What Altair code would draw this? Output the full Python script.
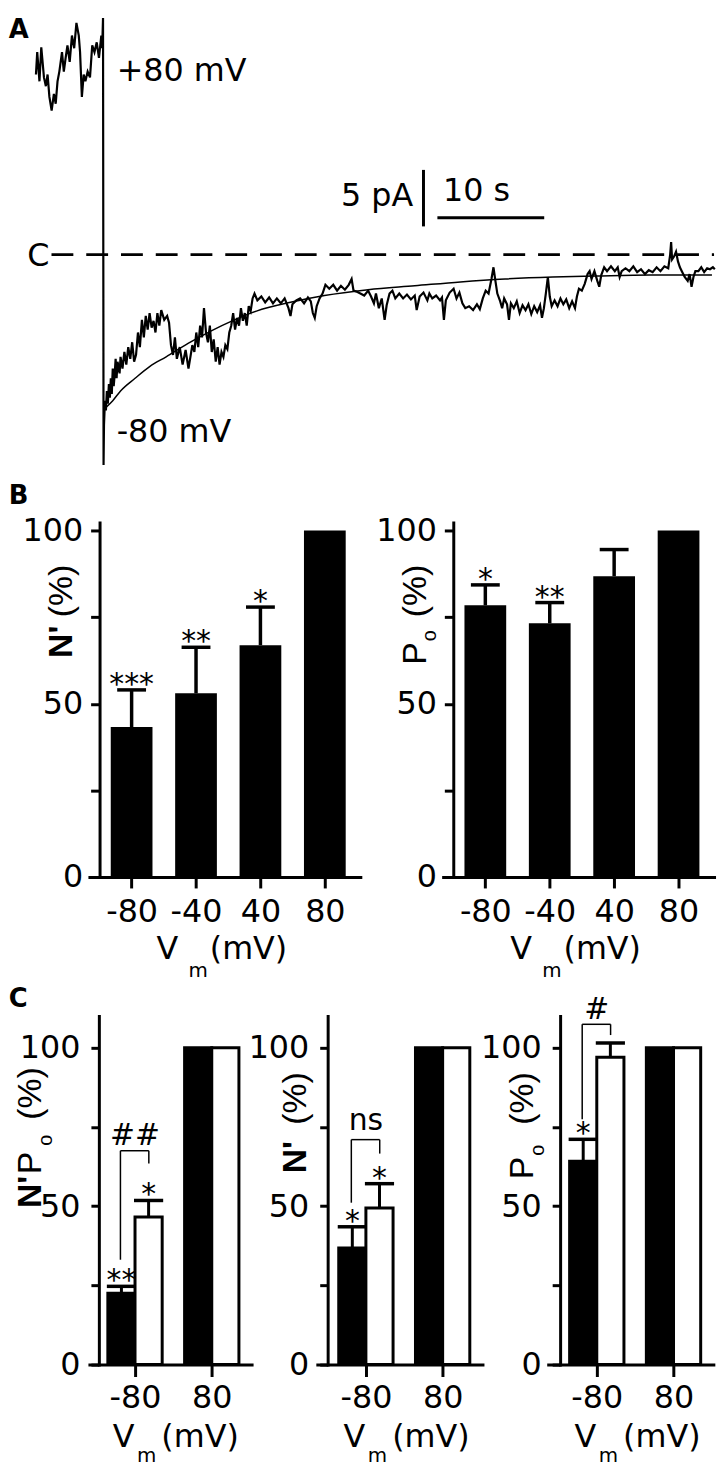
import json
import altair as alt
import pandas as pd

FONT = "DejaVu Sans"
TFONT = "Liberation Sans"

# ---------------- Panel A : single-channel current trace ----------------
# time in s (0 = voltage step), current in pA (0 = closed level "C")
UP_T = [-6.28, -6.16, -5.95, -5.78, -5.53, -5.35, -5.19, -5.02, -4.81, -4.60,
        -4.43, -4.26, -4.09, -3.84, -3.67, -3.50, -3.33, -3.12, -2.91, -2.70,
        -2.49, -2.27, -2.15, -1.98, -1.81, -1.65, -1.44, -1.22, -1.01, -0.80,
        -0.59, -0.38, -0.16, -0.08]
UP_I = [18.5, 20.8, 17.8, 21.3, 18.2, 17.3, 18.5, 16.2, 14.8, 16.5,
        15.5, 17.8, 18.8, 20.8, 18.8, 20.2, 21.5, 19.8, 22.5, 21.2,
        23.8, 22.5, 20.8, 16.2, 18.5, 17.8, 18.8, 18.2, 21.5, 20.8,
        21.8, 20.2, 22.5, 21.2]
STEP_T = [0.00, 0.05]
STEP_I = [24.3, -21.6]
DOWN_T = [0.09, 0.18, 0.27, 0.36, 0.45, 0.55, 0.64, 0.73, 0.82, 0.91,
          1.0, 1.09, 1.18, 1.27, 1.36, 1.55, 1.64, 1.82, 2.0, 2.18,
          2.36, 2.55, 2.73, 2.91, 3.09, 3.27, 3.45, 3.64, 3.82, 4.0,
          4.18, 4.36, 4.55, 4.73, 4.91, 5.09, 5.27, 5.45, 5.73, 6.0,
          6.18, 6.36, 6.55, 6.73, 6.91, 7.18, 7.45, 7.73, 8.0, 8.18,
          8.36, 8.55, 8.73, 8.91, 9.09, 9.27, 9.45, 9.64, 9.82, 10.0,
          10.18, 10.36, 10.55, 10.73, 10.91, 11.09, 11.27, 11.45, 11.64, 11.82,
          12.0, 12.18, 12.36, 12.55, 12.73, 12.91, 13.09, 13.27, 13.45, 13.64,
          13.82, 14.0, 14.18, 14.45, 14.82, 15.18, 15.55, 15.91, 16.27, 16.64,
          17.0, 17.36, 17.55, 17.73, 18.09, 18.45, 18.82, 19.18, 19.45, 19.64,
          19.82, 20.0, 20.27, 20.55, 20.82, 21.18, 21.55, 21.91, 22.27, 22.64,
          23.0, 23.27, 23.45, 23.73, 24.09, 24.45, 24.82, 25.09, 25.36, 25.55,
          25.82, 26.09, 26.36, 26.55, 26.82, 27.09, 27.36, 27.73, 28.09, 28.45,
          28.82, 29.18, 29.36, 29.64, 30.0, 30.36, 30.55, 30.82, 31.18, 31.55,
          31.73, 31.91, 32.09, 32.45, 32.82, 33.09, 33.36, 33.64, 33.91, 34.27,
          34.64, 35.0, 35.27, 35.55, 35.82, 36.09, 36.36, 36.55, 36.73, 36.91,
          37.18, 37.36, 37.55, 37.82, 38.0, 38.18, 38.45, 38.73, 39.0, 39.27,
          39.55, 39.82, 40.09, 40.36, 40.64, 40.91, 41.09, 41.27, 41.45, 41.64,
          41.82, 42.0, 42.27, 42.55, 42.82, 43.09, 43.36, 43.64, 43.91, 44.18,
          44.36, 44.55, 44.82, 45.09, 45.36, 45.55, 45.73, 46.0, 46.27, 46.45,
          46.64, 46.91, 47.18, 47.55, 47.91, 48.18, 48.36, 48.55, 48.91, 49.27,
          49.64, 50.0, 50.36, 50.73, 51.09, 51.45, 51.82, 52.18, 52.55, 52.91,
          53.09, 53.18, 53.27, 53.45, 53.64, 53.82, 54.0, 54.18, 54.45, 54.73,
          54.91, 55.09, 55.27, 55.45, 55.73, 56.0, 56.27, 56.55, 56.82, 57.09,
          57.27]
DOWN_I = [-17.5, -15.0, -16.0, -14.0, -15.3, -13.3, -14.7, -12.7, -14.3, -11.7,
          -13.5, -12.3, -10.7, -12.7, -11.0, -12.2, -10.5, -11.7, -10.0, -11.3,
          -9.5, -10.7, -9.0, -11.0, -10.3, -8.0, -9.5, -6.7, -8.5, -6.3,
          -7.7, -6.0, -7.5, -6.8, -8.0, -6.0, -7.3, -5.7, -6.7, -6.3,
          -7.0, -9.3, -10.3, -8.5, -10.7, -9.5, -11.3, -9.8, -11.7, -10.5,
          -9.3, -10.0, -8.0, -9.5, -7.3, -8.5, -5.5, -8.0, -9.0, -7.3,
          -10.0, -8.7, -11.0, -9.5, -11.3, -10.0, -10.5, -9.3, -9.7, -8.0,
          -7.3, -6.0, -7.7, -6.5, -7.3, -5.5, -6.8, -6.0, -7.3, -5.3,
          -5.8, -4.5, -4.0, -4.7, -4.3, -4.9, -4.4, -5.0, -4.5, -5.0,
          -4.5, -5.5, -6.3, -5.1, -4.7, -4.5, -5.0, -4.4, -4.8, -6.0,
          -6.5, -5.3, -4.5, -4.0, -3.1, -3.5, -3.1, -3.7, -3.2, -3.6,
          -3.1, -2.5, -3.7, -3.8, -4.0, -4.2, -3.7, -4.3, -5.0, -4.0,
          -5.5, -4.5, -6.7, -5.2, -4.0, -3.7, -4.5, -4.0, -4.5, -4.1,
          -4.6, -4.2, -5.7, -4.3, -3.9, -4.7, -4.0, -4.5, -4.2, -4.7,
          -4.4, -6.7, -4.7, -3.9, -3.5, -4.5, -3.9, -5.0, -5.5, -5.3,
          -5.7, -5.1, -5.6, -4.5, -3.7, -4.0, -2.5, -1.3, -2.7, -4.0,
          -4.8, -5.5, -4.5, -5.1, -6.7, -5.0, -5.5, -4.8, -6.0, -5.2,
          -5.7, -5.1, -6.1, -5.3, -5.9, -5.2, -6.5, -5.5, -4.0, -2.3,
          -4.3, -5.3, -4.7, -5.3, -4.5, -5.1, -4.6, -5.5, -4.8, -5.5,
          -4.3, -3.5, -3.7, -3.0, -2.0, -1.7, -2.5, -1.7, -2.7, -3.3,
          -2.1, -1.3, -1.7, -1.2, -1.7, -1.3, -2.3, -1.7, -1.4, -1.7,
          -1.2, -1.8, -1.5, -2.0, -1.6, -1.8, -1.3, -1.7, -1.2, -1.4,
          0.0, 1.3, -0.5, -0.2, 0.3, -0.7, -1.3, -1.7, -2.3, -2.7,
          -2.0, -3.3, -2.3, -1.7, -1.7, -1.3, -1.8, -1.4, -1.5, -1.3,
          -1.5]
FIT_T = [0.27, 0.91, 1.64, 3.0, 4.36, 5.91, 8.0, 10.18, 12.09, 14.36,
         17.55, 20.73, 24.82, 29.18, 33.45, 37.64, 42.09, 46.09, 51.18, 57.0]
FIT_I = [-15.7, -15.0, -14.0, -12.7, -11.5, -10.5, -9.1, -7.8, -6.8, -5.8,
         -4.9, -4.2, -3.6, -3.2, -2.8, -2.5, -2.3, -2.2, -2.1, -2.1]
CLOSED_LEVEL = [0.0]
SCALEBAR_T = [31.3, 41.3]          # 10 s time bar

# ---------------- Panel B ----------------
B_VM = ["-80", "-40", "40", "80"]
B_N = [43.3, 53.0, 66.9, 100.0]
B_N_ERR = [10.7, 13.3, 11.0, 0.0]
B_N_SIG = ["***", "**", "*", ""]
B_PO = [78.4, 73.2, 86.8, 100.0]
B_PO_ERR = [5.9, 6.0, 7.7, 0.0]
B_PO_SIG = ["*", "**", "", ""]

# ---------------- Panel C ----------------
C_VM = ["-80", "80"]
C1_CTRL, C1_CTRL_ERR, C1_CTRL_SIG = [22.5, 100.0], [2.2, 0.0], ["**", ""]
C1_TRT, C1_TRT_ERR, C1_TRT_SIG = [46.6, 100.0], [5.2, 0.0], ["*", ""]
C1_BRACKET = ["##", 33.1, 63.5, 67.5]     # label, left leg bottom, right leg bottom, top
C2_CTRL, C2_CTRL_ERR, C2_CTRL_SIG = [36.8, 100.0], [6.7, 0.0], ["*", ""]
C2_TRT, C2_TRT_ERR, C2_TRT_SIG = [49.4, 100.0], [7.7, 0.0], ["*", ""]
C2_BRACKET = ["ns", 51.1, 66.6, 71.0]
C3_CTRL, C3_CTRL_ERR, C3_CTRL_SIG = [64.2, 100.0], [6.9, 0.0], ["*", ""]
C3_TRT, C3_TRT_ERR, C3_TRT_SIG = [97.0, 100.0], [4.5, 0.0], ["", ""]
C3_BRACKET = ["#", 77.4, 104.0, 107.4]

ONE = pd.DataFrame({"d": [0]})


def txt(s, x, y, size=32, font=FONT, weight="normal", align="left",
        baseline="alphabetic", angle=0):
    return alt.Chart(ONE).mark_text(
        text=s, font=font, fontSize=size, fontWeight=weight, align=align,
        baseline=baseline, angle=angle, color="black"
    ).encode(x=alt.value(x), y=alt.value(y))


def rtxt(s, x, y, size=34, weight="normal", font=TFONT):
    return txt(s, x, y, size=size, font=font, weight=weight, align="center",
               baseline="middle", angle=270)


def ghost(x, y1, y2):
    return alt.Chart(ONE).mark_rule(opacity=0, strokeWidth=1).encode(
        x=alt.value(x), y=alt.value(y1), y2=alt.value(y2))


def yaxis(off, tick, pad):
    return alt.Axis(values=[0, 25, 50, 75, 100],
                    labelExpr="datum.value % 50 === 0 ? datum.label : ''",
                    offset=off, tickSize=tick, labelPadding=pad, title=None,
                    grid=False, domainWidth=3, tickWidth=3, domainCap="square",
                    labelFont=FONT, labelFontSize=32, labelFlush=False,
                    labelOverlap=False, domainColor="black", tickColor="black",
                    labelColor="black")


def xaxis(labels, tick, pad):
    return alt.Axis(values=list(range(len(labels))),
                    labelExpr=json.dumps(labels) + "[datum.value]",
                    tickSize=tick, labelPadding=pad, title=None, grid=False,
                    domainWidth=3, tickWidth=3, domainCap="square",
                    labelFont=FONT, labelFontSize=32, labelFlush=False,
                    labelOverlap=False, domainColor="black", tickColor="black",
                    labelColor="black")


# ---------------- build panel A ----------------
# all rows share the same origin (left edge of the B/C plots)
A_W, A_H = 630.8, 452
T_DOM = [-1.273, 57.364]
I_DOM = [-21.6, 24.5]
sAx = alt.Scale(domain=T_DOM, nice=False, zero=False)
sAy = alt.Scale(domain=I_DOM, nice=False, zero=False)

trace_df = pd.DataFrame({"t": UP_T + STEP_T + DOWN_T, "i": UP_I + STEP_I + DOWN_I})
trace_df["k"] = range(len(trace_df))
fit_df = pd.DataFrame({"t": FIT_T, "i": FIT_I})

trace = alt.Chart(trace_df).mark_line(color="black", strokeWidth=2.2).encode(
    x=alt.X("t:Q", scale=sAx, axis=None), y=alt.Y("i:Q", scale=sAy, axis=None),
    order="k:Q")
fit = alt.Chart(fit_df).mark_line(color="black", strokeWidth=1.5,
                                  interpolate="monotone").encode(
    x=alt.X("t:Q", scale=sAx, axis=None), y=alt.Y("i:Q", scale=sAy, axis=None))
dash = alt.Chart(pd.DataFrame({"i": CLOSED_LEVEL})).mark_rule(
    color="black", strokeWidth=3, strokeDash=[22, 13]).encode(
    x=alt.value(-38.2), x2=alt.value(629), y=alt.Y("i:Q", scale=sAy, axis=None))
tbar = alt.Chart(pd.DataFrame({"t": [SCALEBAR_T[0]], "t2": [SCALEBAR_T[1]]})).mark_rule(
    color="black", strokeWidth=3).encode(
    x=alt.X("t:Q", scale=sAx, axis=None), x2="t2:Q", y=alt.value(203))
ibar = alt.Chart(ONE).mark_rule(color="black", strokeWidth=3).encode(
    x=alt.value(336.4), y=alt.value(154.9), y2=alt.value(211.8))

panelA = alt.layer(
    trace, fit, dash, tbar, ibar,
    txt("A", -81.2, 21.6, size=26, weight="bold"),
    txt("+80 mV", 27.4, 65.7),
    txt("-80 mV", 27.4, 428.5),
    txt("C", -62.6, 252),
    txt("5 pA", 253.3, 191.2),
    txt("10 s", 356, 186.3),
).properties(width=A_W, height=A_H)

# ---------------- build panel B ----------------
B_W, B_H = 272.8, 357
B_XDOM = [-0.655, 3.551]
B_YDOM = [0, 102.3]
B_HALF, B_CAP = 0.324, 0.224


def xtitle(xv, xm, xp, yb, ym):
    return [txt("V", xv, yb), txt("m", xm, ym, size=20), txt("(mV)", xp, yb)]


def b_panel(vals, errs, sigs, yoff, extra):
    df = pd.DataFrame({"pos": list(range(len(B_VM))), "value": vals,
                       "err": errs, "sig": sigs})
    xs = alt.Scale(domain=B_XDOM, nice=False, zero=False)
    ys = alt.Scale(domain=B_YDOM, nice=False, zero=True)
    xa = xaxis(B_VM, 11, 9)
    ya = yaxis(yoff, 9, 8)

    def X(f):
        return alt.X(f + ":Q", scale=xs, axis=xa)

    def Y(f):
        return alt.Y(f + ":Q", scale=ys, axis=ya)

    base = alt.Chart(df).transform_calculate(
        x1=f"datum.pos - {B_HALF}", x2=f"datum.pos + {B_HALF}",
        c1=f"datum.pos - {B_CAP}", c2=f"datum.pos + {B_CAP}",
        top="datum.value + datum.err")
    bars = base.mark_bar(color="black").encode(x=X("x1"), x2="x2:Q",
                                               y=Y("value"), y2=alt.datum(0))
    eb = base.transform_filter("datum.err > 0")
    err = eb.mark_rule(color="black", strokeWidth=3.5).encode(
        x=X("pos"), y=Y("value"), y2="top:Q")
    cap = eb.mark_rule(color="black", strokeWidth=3.5).encode(
        x=X("c1"), x2="c2:Q", y=Y("top"))
    stars = base.transform_filter("datum.sig != ''").mark_text(
        font=FONT, fontSize=30, baseline="alphabetic", align="center", dy=4,
        color="black").encode(x=X("pos"), y=Y("top"), text="sig:N")
    layers = [bars, err, cap, stars] + extra + xtitle(67.5, 99.7, 121.2, 440, 458)
    return alt.layer(*layers).properties(width=B_W, height=B_H)


B1 = b_panel(B_N, B_N_ERR, B_N_SIG, -10.2, [
    ghost(-81.2, -53, 463),
    txt("B", -81.2, -19, size=26, weight="bold"),
    rtxt("(%)", -27.4, 69),
    rtxt("N'", -27.4, 120, weight="bold"),
])
B2 = b_panel(B_PO, B_PO_ERR, B_PO_SIG, -10.2, [
    rtxt("(%)", -27.4, 69),
    rtxt("o", -12.9, 114, size=20),
    rtxt("P", -27.4, 132),
])

# ---------------- build panel C ----------------
C_H = 351
C_XDOM = [-0.633, 1.519]
C_YDOM = [0, 110]
C_BW, C_CAP = 0.354, 0.19


def c_panel(ctrl, cerr, csig, trt, terr, tsig, bracket, bdy, yoff, extra,
            width=166.3, xdom=C_XDOM, tdx=0.0):
    df = pd.DataFrame({"pos": [0, 1, 0, 1],
                       "grp": ["ctrl", "ctrl", "treat", "treat"],
                       "value": ctrl + trt, "err": cerr + terr,
                       "sig": csig + tsig})
    bdf = pd.DataFrame({"pos": [0], "label": [bracket[0]], "lb": [bracket[1]],
                        "rb": [bracket[2]], "top": [bracket[3]]})
    xs = alt.Scale(domain=xdom, nice=False, zero=False)
    ys = alt.Scale(domain=C_YDOM, nice=False, zero=True)
    xa = xaxis(C_VM, 12, 6)
    ya = yaxis(yoff, 8, 11)

    def X(f):
        return alt.X(f + ":Q", scale=xs, axis=xa)

    def Y(f):
        return alt.Y(f + ":Q", scale=ys, axis=ya)

    base = alt.Chart(df).transform_calculate(
        x1=f"datum.grp == 'ctrl' ? datum.pos - {C_BW} : datum.pos",
        x2=f"datum.grp == 'ctrl' ? datum.pos : datum.pos + {C_BW}",
        xc=f"datum.grp == 'ctrl' ? datum.pos - {C_BW / 2} : datum.pos + {C_BW / 2}",
        c1=f"datum.xc - {C_CAP}", c2=f"datum.xc + {C_CAP}",
        top="datum.value + datum.err")
    bars = base.mark_bar(stroke="black", strokeWidth=3).encode(
        x=X("x1"), x2="x2:Q", y=Y("value"), y2=alt.datum(0),
        fill=alt.Fill("grp:N", scale=alt.Scale(domain=["ctrl", "treat"],
                                                range=["black", "white"]),
                      legend=None))
    eb = base.transform_filter("datum.err > 0")
    err = eb.mark_rule(color="black", strokeWidth=3).encode(
        x=X("xc"), y=Y("value"), y2="top:Q")
    cap = eb.mark_rule(color="black", strokeWidth=3.5).encode(
        x=X("c1"), x2="c2:Q", y=Y("top"))
    stars = base.transform_filter("datum.sig != ''").mark_text(
        font=FONT, fontSize=30, baseline="alphabetic", align="center", dy=4,
        color="black").encode(x=X("xc"), y=Y("top"), text="sig:N")
    bb = alt.Chart(bdf).transform_calculate(lx="datum.pos - 0.19",
                                            rx="datum.pos + 0.18")
    legl = bb.mark_rule(color="black", strokeWidth=1.5).encode(
        x=X("lx"), y=Y("lb"), y2="top:Q")
    legr = bb.mark_rule(color="black", strokeWidth=1.5).encode(
        x=X("rx"), y=Y("rb"), y2="top:Q")
    hor = bb.mark_rule(color="black", strokeWidth=1.5).encode(
        x=X("lx"), x2="rx:Q", y=Y("top"))
    lab = bb.mark_text(font=FONT, fontSize=30, baseline="alphabetic",
                       align="center", dy=bdy, color="black").encode(
        x=X("pos"), y=Y("top"), text="label:N")
    layers = ([bars, err, cap, stars, legl, legr, hor, lab] + extra
              + xtitle(26.4 + tdx, 50.9 + tdx, 75.4 + tdx, 434, 449))
    return alt.layer(*layers).properties(width=width, height=C_H)


C1 = c_panel(C1_CTRL, C1_CTRL_ERR, C1_CTRL_SIG, C1_TRT, C1_TRT_ERR, C1_TRT_SIG,
             C1_BRACKET, -6, -9.5, [
                 ghost(-81.2, -34, 453),
                 txt("C", -81.2, -9, size=26, weight="bold"),
                 rtxt("(%)", -58.6, 78),
                 rtxt("o", -43.6, 125, size=20),
                 rtxt("P", -58.6, 148),
                 rtxt("N'", -58.6, 177, weight="bold"),
             ], width=163.3, xdom=[-0.594, 1.519], tdx=-3.0)
C2 = c_panel(C2_CTRL, C2_CTRL_ERR, C2_CTRL_SIG, C2_TRT, C2_TRT_ERR, C2_TRT_SIG,
             C2_BRACKET, -10, -10.4, [
                 rtxt("(%)", -21.7, 83),
                 rtxt("N'", -21.7, 142, weight="bold"),
             ])
C3 = c_panel(C3_CTRL, C3_CTRL_ERR, C3_CTRL_SIG, C3_TRT, C3_TRT_ERR, C3_TRT_SIG,
             C3_BRACKET, -5, -12.0, [
                 rtxt("(%)", -25.6, 83),
                 rtxt("o", -10.6, 135, size=20),
                 rtxt("P", -25.6, 153),
             ])

rowB = alt.hconcat(B1, B2, spacing=83.2, bounds="flush")
rowC = alt.hconcat(C1, C2, C3, spacing=65.5, bounds="flush")

chart = alt.vconcat(panelA, rowB, rowC, spacing=0).properties(
    padding=0
).configure_view(stroke=None)

chart.save("out.html", embed_options={"renderer": "svg", "actions": False})
